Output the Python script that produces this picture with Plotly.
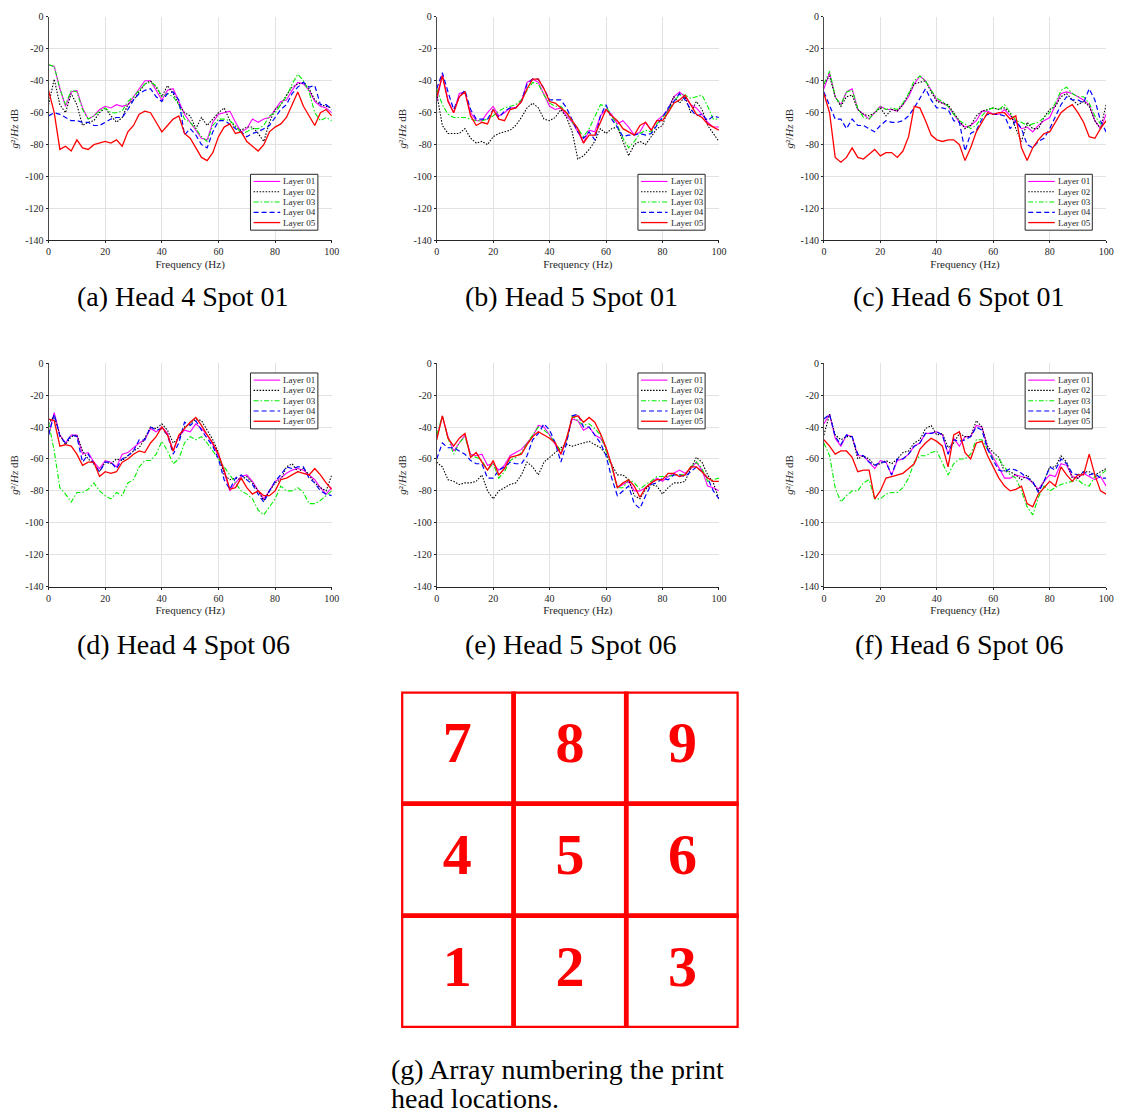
import plotly.graph_objects as go

# ---------------- data ----------------
freq = list(range(0, 101, 2))
layer_names = ["Layer 01", "Layer 02", "Layer 03", "Layer 04", "Layer 05"]
panel_captions = ["(a) Head 4 Spot 01", "(b) Head 5 Spot 01", "(c) Head 6 Spot 01",
                  "(d) Head 4 Spot 06", "(e) Head 5 Spot 06", "(f) Head 6 Spot 06"]
x_tickvals = [0, 20, 40, 60, 80, 100]
x_ticklabels = ["0", "20", "40", "60", "80", "100"]
y_tickvals = [0, -20, -40, -60, -80, -100, -120, -140]
y_ticklabels = ["0", "-20", "-40", "-60", "-80", "-100", "-120", "-140"]
grid_labels = [["7", "8", "9"], ["4", "5", "6"], ["1", "2", "3"]]
grid_caption = ["(g) Array numbering the print", "head locations."]

# Head 4 Spot 01
h4s01_l1 = [-30,-31,-45,-56,-47,-46,-57,-64,-62,-58, -56,-57,-55,-56,-55,-50,-45,-40,-40,-46,
            -52,-46,-45,-53,-61,-66,-71,-76,-77,-66, -61,-60,-59,-66,-72,-70,-64,-66,-64,-63,
            -58,-53,-52,-46,-41,-42,-46,-53,-56,-57, -60]
h4s01_l2 = [-55,-39,-55,-60,-48,-55,-68,-66,-65,-60, -57,-62,-66,-63,-55,-52,-47,-42,-40,-44,
            -50,-43,-48,-55,-60,-62,-70,-63,-68,-64, -60,-57,-65,-69,-71,-69,-69,-73,-78,-66,
            -58,-55,-49,-44,-42,-41,-45,-52,-55,-56, -57]
h4s01_l3 = [-30,-31,-45,-55,-46,-47,-58,-64,-62,-59, -57,-60,-60,-59,-53,-50,-46,-42,-41,-43,
            -50,-48,-50,-55,-64,-66,-70,-75,-78,-68, -64,-64,-65,-68,-73,-72,-70,-70,-68,-62,
            -60,-55,-50,-42,-36,-40,-47,-60,-65,-63, -65]
h4s01_l4 = [-62,-60,-61,-63,-65,-65,-66,-66,-68,-68, -66,-64,-63,-63,-58,-52,-48,-46,-45,-50,
            -53,-48,-47,-52,-74,-70,-74,-80,-82,-72, -65,-65,-67,-70,-72,-75,-73,-72,-70,-68,
            -63,-58,-55,-48,-44,-41,-44,-43,-55,-55, -58]
h4s01_l5 = [-46,-60,-83,-81,-84,-77,-82,-83,-80,-79, -78,-79,-77,-81,-72,-68,-61,-59,-60,-66,
            -72,-68,-64,-62,-73,-76,-82,-88,-90,-85, -75,-69,-67,-73,-72,-78,-81,-84,-80,-72,
            -69,-67,-63,-55,-47,-56,-62,-68,-60,-58, -62]

# Head 5 Spot 01
h5s01_l1 = [-53,-36,-52,-60,-48,-47,-60,-65,-65,-60, -56,-62,-60,-57,-57,-53,-41,-39,-41,-48,
            -56,-58,-57,-62,-66,-72,-79,-71,-72,-62, -58,-61,-67,-65,-69,-74,-72,-66,-71,-65,
            -62,-58,-50,-47,-50,-55,-57,-61,-66,-69, -69]
h5s01_l2 = [-48,-68,-73,-73,-73,-70,-76,-79,-78,-80, -75,-73,-72,-71,-68,-63,-57,-54,-57,-64,
            -65,-63,-58,-63,-72,-89,-87,-83,-78,-70, -73,-70,-69,-78,-87,-80,-78,-80,-75,-70,
            -68,-58,-50,-54,-50,-60,-53,-58,-68,-73, -78]
h5s01_l3 = [-45,-55,-61,-63,-63,-63,-64,-65,-65,-64, -62,-59,-57,-56,-55,-52,-46,-41,-42,-49,
            -54,-56,-56,-60,-66,-70,-75,-70,-62,-55, -56,-62,-68,-76,-82,-78,-73,-71,-72,-67,
            -63,-59,-53,-49,-49,-51,-50,-49,-56,-64, -64]
h5s01_l4 = [-45,-35,-47,-58,-50,-46,-58,-64,-64,-64, -58,-63,-59,-57,-57,-53,-42,-39,-39,-45,
            -52,-52,-52,-57,-65,-72,-76,-72,-77,-62, -55,-64,-69,-75,-74,-74,-73,-74,-73,-68,
            -63,-57,-53,-48,-52,-58,-62,-61,-65,-62, -63]
h5s01_l5 = [-50,-37,-53,-60,-50,-47,-62,-68,-66,-67, -58,-64,-65,-58,-57,-53,-45,-39,-39,-45,
            -53,-54,-57,-60,-65,-70,-79,-74,-74,-66, -58,-62,-65,-70,-72,-74,-68,-66,-71,-65,
            -65,-60,-54,-52,-49,-55,-61,-63,-67,-69, -71]

# Head 6 Spot 01
h6s01_l1 = [-45,-35,-50,-55,-47,-45,-58,-61,-64,-60, -56,-58,-58,-59,-55,-50,-42,-37,-40,-46,
            -52,-54,-56,-61,-66,-69,-68,-65,-59,-59, -61,-61,-58,-62,-66,-70,-69,-72,-68,-65,
            -63,-55,-48,-47,-48,-50,-52,-55,-65,-70, -61]
h6s01_l2 = [-42,-37,-50,-56,-50,-49,-58,-61,-62,-60, -57,-62,-58,-59,-55,-48,-42,-41,-40,-47,
            -53,-54,-55,-60,-65,-70,-68,-62,-59,-58, -57,-58,-57,-60,-70,-78,-66,-70,-70,-63,
            -58,-56,-50,-48,-52,-55,-53,-56,-65,-70, -55]
h6s01_l3 = [-42,-34,-50,-55,-47,-46,-57,-63,-64,-60, -56,-58,-57,-58,-54,-48,-40,-37,-40,-46,
            -51,-53,-56,-61,-65,-67,-70,-68,-62,-58, -57,-58,-55,-60,-65,-66,-68,-67,-66,-63,
            -60,-54,-46,-44,-48,-50,-50,-54,-62,-67, -66]
h6s01_l4 = [-47,-55,-64,-64,-70,-64,-68,-68,-70,-72, -68,-65,-66,-66,-65,-62,-57,-51,-45,-52,
            -57,-57,-58,-65,-66,-84,-73,-71,-64,-61, -61,-61,-62,-70,-65,-70,-80,-82,-78,-76,
            -70,-62,-55,-50,-52,-52,-54,-45,-52,-65, -72]
h6s01_l5 = [-48,-60,-88,-91,-88,-82,-88,-89,-86,-83, -87,-85,-85,-88,-84,-75,-56,-57,-65,-74,
            -77,-78,-77,-77,-80,-90,-82,-72,-66,-60, -61,-60,-60,-64,-62,-82,-90,-82,-77,-73,
            -72,-66,-60,-57,-55,-60,-66,-75,-76,-70, -65]

# Head 4 Spot 06
h4s06_l1 = [-45,-31,-45,-50,-45,-45,-57,-56,-62,-66, -61,-62,-65,-57,-56,-53,-50,-48,-41,-43,
            -40,-44,-55,-46,-42,-43,-38,-41,-45,-51, -58,-68,-80,-75,-71,-70,-74,-80,-85,-80,
            -74,-72,-69,-67,-66,-67,-70,-73,-78,-82, -78]
h4s06_l2 = [-38,-33,-45,-51,-46,-45,-55,-60,-63,-68, -62,-63,-60,-61,-58,-55,-53,-47,-40,-41,
            -38,-42,-50,-47,-40,-38,-35,-36,-42,-48, -56,-70,-73,-72,-73,-71,-75,-80,-86,-80,
            -75,-73,-65,-63,-68,-66,-70,-75,-78,-80, -70]
h4s06_l3 = [-37,-55,-78,-82,-87,-81,-81,-79,-75,-80, -83,-85,-81,-83,-75,-73,-65,-61,-61,-57,
            -49,-55,-63,-60,-50,-46,-48,-46,-50,-55, -60,-65,-70,-75,-80,-82,-85,-92,-95,-90,
            -85,-77,-80,-80,-78,-81,-88,-88,-86,-83, -80]
h4s06_l4 = [-45,-32,-46,-50,-45,-46,-62,-57,-63,-68, -62,-62,-66,-60,-58,-55,-48,-48,-40,-42,
            -41,-45,-57,-50,-37,-39,-36,-42,-47,-52, -60,-73,-79,-72,-70,-73,-76,-82,-87,-80,
            -74,-70,-65,-66,-65,-65,-72,-75,-80,-82, -83]
h4s06_l5 = [-35,-36,-52,-51,-52,-57,-64,-62,-62,-71, -68,-69,-68,-62,-60,-57,-55,-56,-50,-46,
            -40,-45,-55,-45,-41,-37,-34,-39,-45,-50, -57,-67,-79,-78,-72,-78,-82,-80,-83,-83,
            -80,-73,-72,-70,-68,-69,-70,-66,-70,-75, -79]

# Head 5 Spot 06
h5s06_l1 = [-47,-33,-46,-55,-50,-45,-57,-58,-57,-64, -63,-67,-64,-58,-56,-54,-50,-46,-39,-40,
            -45,-51,-57,-48,-35,-36,-42,-40,-45,-47, -53,-64,-78,-76,-74,-80,-80,-78,-75,-72,
            -74,-71,-69,-67,-69,-66,-62,-67,-77,-78, -80]
h5s06_l2 = [-62,-65,-73,-74,-76,-75,-75,-74,-70,-80, -85,-80,-78,-76,-75,-70,-62,-65,-70,-62,
            -59,-56,-53,-51,-52,-51,-50,-49,-51,-53, -57,-64,-70,-70,-73,-83,-85,-79,-76,-77,
            -82,-78,-75,-75,-74,-66,-59,-62,-70,-75, -85]
h5s06_l3 = [-45,-33,-47,-57,-50,-46,-58,-59,-61,-67, -63,-72,-68,-61,-59,-56,-50,-45,-40,-42,
            -45,-50,-55,-49,-33,-36,-39,-38,-41,-45, -55,-65,-78,-78,-73,-75,-79,-76,-74,-71,
            -71,-71,-70,-70,-70,-65,-62,-66,-74,-73, -72]
h5s06_l4 = [-60,-50,-53,-53,-55,-57,-61,-63,-63,-72, -72,-67,-65,-62,-63,-63,-58,-48,-44,-38,
            -42,-50,-62,-50,-33,-32,-40,-40,-45,-50, -58,-72,-83,-80,-77,-88,-91,-83,-76,-75,
            -72,-73,-70,-70,-71,-68,-65,-68,-72,-80, -85]
h5s06_l5 = [-48,-33,-47,-52,-47,-44,-59,-56,-62,-67, -61,-70,-66,-59,-58,-57,-51,-46,-43,-45,
            -47,-50,-57,-47,-34,-33,-37,-34,-37,-44, -53,-64,-78,-75,-73,-77,-84,-78,-75,-73,
            -73,-69,-69,-71,-70,-65,-65,-68,-72,-74, -74]

# Head 6 Spot 06
h6s06_l1 = [-38,-32,-47,-52,-45,-46,-58,-58,-62,-66, -61,-62,-70,-61,-60,-57,-52,-50,-44,-44,
            -43,-45,-57,-47,-52,-46,-46,-39,-40,-53, -59,-66,-72,-72,-70,-71,-72,-75,-79,-74,
            -70,-71,-63,-64,-71,-72,-69,-71,-73,-71, -77]
h6s06_l2 = [-45,-32,-45,-48,-46,-46,-60,-58,-60,-64, -63,-61,-63,-60,-56,-55,-50,-48,-41,-39,
            -45,-44,-53,-50,-44,-46,-46,-36,-40,-52, -56,-59,-68,-68,-70,-73,-70,-75,-80,-74,
            -65,-65,-58,-62,-72,-72,-68,-68,-70,-68, -66]
h6s06_l3 = [-50,-58,-78,-87,-83,-80,-80,-75,-73,-85, -85,-82,-81,-81,-78,-72,-62,-58,-58,-56,
            -55,-62,-70,-63,-60,-60,-57,-48,-48,-54, -60,-60,-65,-70,-72,-80,-90,-95,-84,-77,
            -80,-78,-76,-75,-74,-73,-76,-77,-71,-70, -67]
h6s06_l4 = [-35,-32,-46,-51,-45,-46,-57,-58,-62,-64, -62,-62,-70,-60,-60,-57,-52,-50,-44,-44,
            -43,-45,-57,-48,-49,-48,-46,-40,-42,-54, -61,-67,-68,-66,-67,-69,-72,-74,-81,-74,
            -65,-67,-60,-63,-69,-70,-68,-70,-69,-72, -72]
h6s06_l5 = [-48,-52,-57,-55,-55,-59,-68,-67,-67,-85, -80,-72,-71,-70,-69,-66,-63,-54,-50,-47,
            -49,-52,-65,-45,-43,-56,-60,-50,-49,-58, -65,-72,-77,-80,-79,-77,-88,-90,-82,-78,
            -74,-77,-65,-70,-74,-70,-70,-57,-70,-80, -82]

panels = [
    [h4s01_l1, h4s01_l2, h4s01_l3, h4s01_l4, h4s01_l5],
    [h5s01_l1, h5s01_l2, h5s01_l3, h5s01_l4, h5s01_l5],
    [h6s01_l1, h6s01_l2, h6s01_l3, h6s01_l4, h6s01_l5],
    [h4s06_l1, h4s06_l2, h4s06_l3, h4s06_l4, h4s06_l5],
    [h5s06_l1, h5s06_l2, h5s06_l3, h5s06_l4, h5s06_l5],
    [h6s06_l1, h6s06_l2, h6s06_l3, h6s06_l4, h6s06_l5],
]
legend_side = ["bottom", "bottom", "bottom", "top", "top", "top"]

# ---------------- styles / geometry ----------------
W, H = 1128, 1120


def fx(px):
    return px / W


def fy(py):
    return 1 - py / H


SERIF = "Liberation Serif"
line_colors = ["#ff00ff", "#000000", "#00ee00", "#0000ff", "#ff0000"]
line_dashes = ["solid", "1.5px,1.5px", "5px,2px,1.5px,2px", "5px,3px", "solid"]
line_widths = [1.1, 1.1, 1.1, 1.2, 1.3]
col_px = [(46, 332), (438, 723), (829, 1114)]
row_px = [(11, 237), (361, 587)]
caption_x = [182, 574, 965]
caption_y = [294, 645]

fig = go.Figure()
shapes = []
annotations = []

for i, series in enumerate(panels):
    r, c = divmod(i, 3)
    k = i + 1
    sfx = "" if k == 1 else str(k)
    xa, ya = "x" + sfx, "y" + sfx
    for j, vals in enumerate(series):
        fig.add_trace(go.Scatter(
            x=freq, y=vals, mode="lines", name=layer_names[j], showlegend=False,
            line=dict(color=line_colors[j], width=line_widths[j], dash=line_dashes[j]),
            xaxis=xa, yaxis=ya, hoverinfo="skip"))
    x0, x1 = col_px[c]
    y0, y1 = row_px[r]
    fig.layout["xaxis" + sfx] = dict(
        domain=[fx(x0), fx(x1)], anchor=ya, range=[0, 100],
        tickvals=x_tickvals, ticktext=x_ticklabels,
        showgrid=True, gridcolor="#e2e2e2", gridwidth=1, zeroline=False,
        showline=True, linecolor="#262626", linewidth=1, mirror=False,
        ticks="outside", ticklen=2, tickcolor="#262626",
        tickfont=dict(family=SERIF, size=10, color="#262626"),
        title=dict(text="Frequency (Hz)", font=dict(family=SERIF, size=11, color="#262626"),
                   standoff=3))
    fig.layout["yaxis" + sfx] = dict(
        domain=[fy(y1), fy(y0)], anchor=xa, range=[-140, 0],
        tickvals=y_tickvals, ticktext=y_ticklabels,
        showgrid=True, gridcolor="#e2e2e2", gridwidth=1, zeroline=False,
        showline=True, linecolor="#4a4a4a", linewidth=1, mirror=False,
        ticks="outside", ticklen=2, tickcolor="#262626",
        tickfont=dict(family=SERIF, size=10, color="#262626"),
        title=dict(text="<i>g</i>²/<i>Hz</i> dB",
                   font=dict(family=SERIF, size=11, color="#262626"), standoff=4))

    # compact legend box drawn inside the axes domain
    xr, yr = xa + " domain", ya + " domain"
    box_top = 0.296 if legend_side[i] == "bottom" else 0.956
    box_bot = box_top - 0.25
    shapes.append(dict(type="rect", xref=xr, yref=yr, x0=0.713, x1=0.951,
                       y0=box_bot, y1=box_top, line=dict(color="#262626", width=1),
                       fillcolor="white", layer="above"))
    for j in range(5):
        yy = box_top - 0.032 - 0.046 * j
        shapes.append(dict(type="line", xref=xr, yref=yr, x0=0.724, x1=0.818, y0=yy, y1=yy,
                           line=dict(color=line_colors[j], width=line_widths[j],
                                     dash=line_dashes[j]), layer="above"))
        annotations.append(dict(xref=xr, yref=yr, x=0.822, y=yy, text=layer_names[j],
                                showarrow=False, xanchor="left", yanchor="middle",
                                font=dict(family=SERIF, size=9, color="#262626")))
    annotations.append(dict(xref="paper", yref="paper", x=fx(caption_x[c]),
                            y=fy(caption_y[r]), text=panel_captions[i], showarrow=False,
                            xanchor="center", yanchor="middle",
                            font=dict(family=SERIF, size=28, color="black")))

# ---------------- head location grid (g) ----------------
gx, gy = [], []
gtext = []
for ri, row in enumerate(grid_labels):
    for ci, lab in enumerate(row):
        yrow = len(grid_labels) - 1 - ri
        gx.append(ci + 0.5)
        gy.append(yrow + 0.5)
        gtext.append(lab)
        shapes.append(dict(type="rect", xref="x7", yref="y7", x0=ci, x1=ci + 1,
                           y0=yrow, y1=yrow + 1, line=dict(color="#ff0000", width=4.5)))
fig.add_trace(go.Scatter(x=gx, y=gy, mode="text", text=gtext, showlegend=False,
                         hoverinfo="skip", xaxis="x7", yaxis="y7",
                         textfont=dict(family=SERIF, size=58, color="#ff0000", weight="bold")))
fig.layout["xaxis7"] = dict(domain=[fx(402), fx(743)], anchor="y7", range=[0, 3],
                            visible=False, fixedrange=True)
fig.layout["yaxis7"] = dict(domain=[fy(1033), fy(693)], anchor="x7", range=[0, 3],
                            visible=False, fixedrange=True)

annotations.append(dict(xref="paper", yref="paper", x=fx(390), y=fy(1075),
                        text=grid_caption[0], showarrow=False, xanchor="left",
                        yanchor="middle", font=dict(family=SERIF, size=28, color="black")))
annotations.append(dict(xref="paper", yref="paper", x=fx(390), y=fy(1104),
                        text=grid_caption[1], showarrow=False, xanchor="left",
                        yanchor="middle", font=dict(family=SERIF, size=28, color="black")))

fig.update_layout(width=W, height=H, margin=dict(l=0, r=0, t=0, b=0),
                  paper_bgcolor="white", plot_bgcolor="white",
                  showlegend=False, shapes=shapes, annotations=annotations,
                  font=dict(family=SERIF))

# remove the browser's default 8px body margin so the figure fills the window exactly
fig.write_html("out.html", config={"displayModeBar": False},
               post_script="document.body.style.margin='0';document.body.style.overflow='hidden';")
